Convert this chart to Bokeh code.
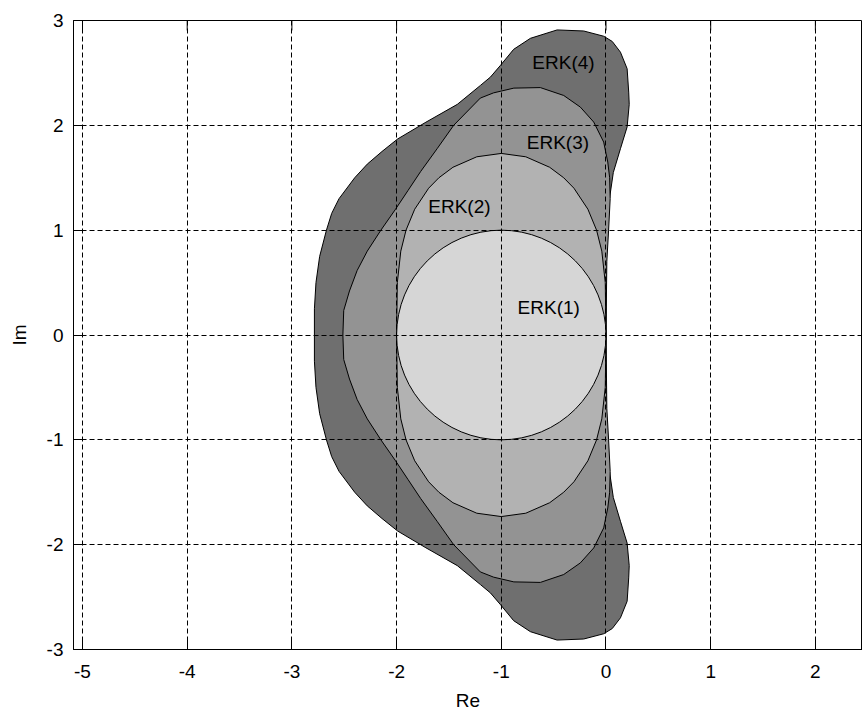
from bokeh.plotting import figure
from bokeh.models import LinearAxis, Range1d, FixedTicker
from bokeh.embed import file_html
from bokeh.resources import INLINE
from bokeh.core.properties import value

# ---- data ----
x_ticks = [-5, -4, -3, -2, -1, 0, 1, 2]
y_ticks = [-3, -2, -1, 0, 1, 2, 3]

# ERK(1): disc
rk1_cx = [-1.0]
rk1_cy = [0.0]
rk1_diam = [2.0]

# upper halves of the stability boundaries (region is symmetric about Re axis)
rk2_x = [0.0, -0.007, -0.04, -0.09, -0.173, -0.306, -0.404, -0.538, -0.766, -1.0,
         -1.234, -1.462, -1.596, -1.694, -1.827, -1.91, -1.96, -1.993, -2.0]
rk2_y = [0.0, 0.5, 0.8, 1.0, 1.2, 1.4, 1.5, 1.6, 1.7, 1.732,
         1.7, 1.6, 1.5, 1.4, 1.2, 1.0, 0.8, 0.5, 0.0]

rk3_x = [0.0, 0.008, 0.025, 0.04, 0.035, 0.017, 0.0, -0.022, -0.117, -0.245, -0.404,
         -0.627, -0.88, -1.073, -1.2, -1.455, -1.613, -1.77, -1.89, -2.01, -2.15,
         -2.28, -2.377, -2.45, -2.505, -2.513]
rk3_y = [0.0, 0.7, 1.0, 1.3, 1.5, 1.65, 1.732, 1.84, 2.031, 2.174, 2.285,
         2.36, 2.355, 2.31, 2.26, 2.0, 1.777, 1.56, 1.38, 1.2, 1.0,
         0.8, 0.615, 0.42, 0.234, 0.0]

rk4_x = [0.0, 0.001, 0.006, 0.026, 0.07, 0.138, 0.202, 0.222, 0.217, 0.202, 0.138,
         0.06, -0.022, -0.213, -0.467, -0.722, -0.882, -1.008, -1.104, -1.199,
         -1.42, -1.72, -1.99, -2.14, -2.28, -2.40, -2.55, -2.62, -2.67,
         -2.735, -2.77, -2.785, -2.785]
rk4_y = [0.0, 0.5, 1.0, 1.25, 1.55, 1.777, 1.985, 2.2, 2.317, 2.54, 2.698,
         2.8, 2.85, 2.9, 2.91, 2.83, 2.725, 2.572, 2.46, 2.381,
         2.2, 2.03, 1.87, 1.75, 1.63, 1.5, 1.3, 1.16, 1.0,
         0.75, 0.5, 0.25, 0.0]

label_text = ["ERK(1)", "ERK(2)", "ERK(3)", "ERK(4)"]
label_x = [-0.547, -1.40, -0.459, -0.406]
label_y = [0.258, 1.228, 1.84, 2.60]

fills = {"rk4": "#6f6f6f", "rk3": "#939393", "rk2": "#b2b2b2", "rk1": "#d6d6d6"}


def closed(ux, uy):
    xs = list(ux) + list(ux[::-1])[1:]
    ys = list(uy) + [-v for v in uy[::-1]][1:]
    return xs, ys


FONT = "Liberation Sans"
FS = "19px"
TICK_LEN = 0.095  # inner tick length on the top edge, in data units (~10 px)

p = figure(width=862, height=715, output_backend="svg", toolbar_location=None,
           x_range=Range1d(-5.086, 2.45), y_range=Range1d(-3, 3),
           x_axis_location=None, y_axis_location=None,
           min_border_left=73, min_border_right=0, min_border_top=20,
           min_border_bottom=66)
p.outline_line_color = "black"
p.outline_line_width = 1
p.background_fill_color = "white"
p.border_fill_color = "white"

for key, (ux, uy) in (("rk4", (rk4_x, rk4_y)), ("rk3", (rk3_x, rk3_y)), ("rk2", (rk2_x, rk2_y))):
    xs, ys = closed(ux, uy)
    p.patch(xs, ys, fill_color=fills[key], line_color="black", line_width=1)

p.ellipse(x=rk1_cx, y=rk1_cy, width=rk1_diam, height=rk1_diam,
          fill_color=fills["rk1"], line_color="black", line_width=1)

p.text(x=label_x, y=label_y, text=label_text, text_font=value(FONT),
       text_font_size=FS, text_align="center", text_baseline="middle",
       text_color="black")

# inward ticks along the top edge (box style)
top = max(y_ticks)
p.segment(x0=x_ticks, y0=[top] * len(x_ticks), x1=x_ticks,
          y1=[top - TICK_LEN] * len(x_ticks), line_color="black", line_width=1)

xb = LinearAxis(ticker=FixedTicker(ticks=x_ticks), axis_label="Re",
                major_label_overrides={t: str(t) for t in x_ticks})
yl = LinearAxis(ticker=FixedTicker(ticks=y_ticks), axis_label="Im",
                major_label_overrides={t: str(t) for t in y_ticks})
for ax in (xb, yl):
    ax.axis_line_color = "black"
    ax.axis_line_width = 1
    ax.major_tick_in = 10
    ax.major_tick_out = 0
    ax.major_tick_line_color = "black"
    ax.minor_tick_line_color = None
    ax.major_label_text_font = FONT
    ax.major_label_text_font_size = FS
    ax.major_label_text_color = "black"
    ax.axis_label_text_font = FONT
    ax.axis_label_text_font_size = FS
    ax.axis_label_text_font_style = "normal"
    ax.axis_label_text_color = "black"
xb.major_label_standoff = 15
xb.axis_label_standoff = 9
yl.major_label_standoff = 10
yl.axis_label_standoff = 14
p.add_layout(xb, "below")
p.add_layout(yl, "left")

p.xgrid.ticker = FixedTicker(ticks=x_ticks)
p.ygrid.ticker = FixedTicker(ticks=y_ticks)
for g in (p.xgrid, p.ygrid):
    g.grid_line_color = "black"
    g.grid_line_dash = "5 3"
    g.grid_line_width = 1
    g.level = "annotation"

open("out.html", "w").write(file_html(p, INLINE))
